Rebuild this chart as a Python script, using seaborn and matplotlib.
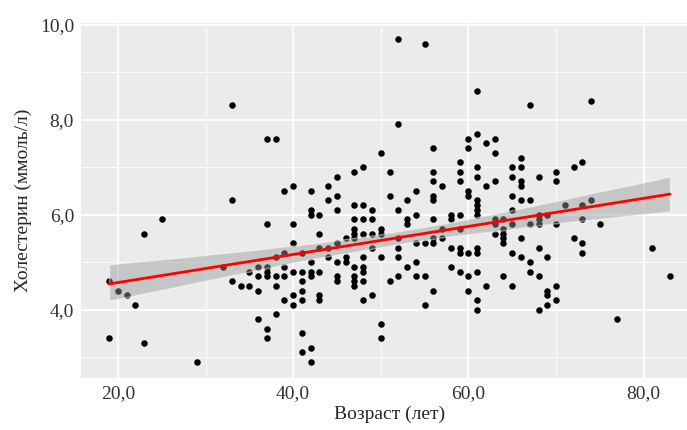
import numpy as np
import pandas as pd
import matplotlib
matplotlib.use("Agg")
import matplotlib.pyplot as plt
import seaborn as sns

# ages (years) and the cholesterol readings observed at each age
ages = [19, 20, 21, 22, 23, 25, 29, 32, 33, 34, 35, 36, 37, 38, 39, 40, 41, 42,
        43, 44, 45, 46, 47, 48, 49, 50, 51, 52, 53, 54, 55, 56, 57, 58, 59, 60,
        61, 62, 63, 64, 65, 66, 67, 68, 69, 70, 71, 72, 73, 74, 75, 77, 81, 83]
chol_by_age = [
    [4.6, 3.4], [4.4], [4.3], [4.1], [5.6, 3.3], [5.9], [2.9], [4.9],
    [8.3, 6.3, 4.6], [4.5], [4.5, 4.8], [4.4, 3.8, 4.9, 4.7],
    [7.6, 5.8, 4.9, 4.8, 4.7, 3.6, 3.4], [7.6, 5.1, 4.7, 4.5, 3.9],
    [6.5, 5.2, 4.9, 4.7, 4.2], [6.6, 5.8, 5.4, 4.8, 4.3, 4.1],
    [5.2, 4.8, 4.6, 4.4, 4.2, 3.5, 3.1], [6.5, 6.1, 6.0, 5.0, 4.8, 4.7, 3.2, 2.9],
    [6.0, 5.6, 5.3, 4.8, 4.3, 4.2], [6.6, 6.3, 5.3, 5.1],
    [6.8, 6.4, 6.1, 5.4, 5.0, 4.7, 4.6], [5.5, 5.1, 5.0],
    [6.9, 6.2, 5.9, 5.7, 5.6, 5.5, 4.9, 4.7, 4.6, 4.5],
    [7.0, 6.2, 5.9, 5.6, 5.1, 4.9, 4.8, 4.6, 4.2], [6.1, 5.9, 5.6, 5.3, 4.3],
    [7.3, 5.7, 5.6, 5.1, 3.7, 3.4], [6.9, 6.4, 4.6],
    [9.7, 7.9, 6.1, 5.5, 5.3, 5.1, 4.7], [6.3, 5.9, 5.8, 4.9],
    [6.5, 6.0, 5.4, 5.0, 4.7], [9.6, 5.4, 4.7, 4.1],
    [7.4, 6.9, 6.7, 6.4, 6.3, 5.9, 5.5, 5.4, 4.4], [6.6, 5.7, 5.5],
    [6.0, 5.9, 5.3, 4.9], [7.1, 6.9, 6.7, 6.0, 5.7, 5.3, 5.2, 4.8],
    [7.6, 7.4, 6.5, 6.4, 5.2, 4.7, 4.4],
    [8.6, 7.7, 7.0, 6.8, 6.3, 6.2, 6.1, 6.0, 5.3, 5.2, 4.8, 4.2, 4.0],
    [7.5, 6.6, 4.5], [7.6, 7.3, 6.7, 5.9, 5.8, 5.6], [5.9, 5.7, 5.6, 5.5, 5.4, 4.7],
    [7.0, 6.8, 6.4, 6.1, 5.8, 5.2, 4.5], [7.2, 7.0, 6.7, 6.6, 6.3, 5.5, 5.1],
    [8.3, 6.3, 5.8, 5.0, 4.8], [6.8, 6.0, 5.9, 5.8, 5.3, 4.7, 4.0],
    [6.0, 5.1, 4.4, 4.3, 4.1], [6.9, 6.7, 5.8, 4.5, 4.2], [6.2], [7.0, 5.5],
    [7.1, 6.2, 5.9, 5.4, 5.2], [8.4, 6.3], [5.8], [3.8], [5.3], [4.7],
]

x_ticks = [20, 40, 60, 80]
y_ticks = [4, 6, 8, 10]

df = pd.DataFrame(
    [(a, c) for a, vals in zip(ages, chol_by_age) for c in vals],
    columns=["age", "chol"],
)

sns.set_theme(style="darkgrid", rc={
    "axes.facecolor": "#EBEBEB",
    "grid.color": "white",
})
plt.rcParams["font.family"] = ["Liberation Serif", "DejaVu Serif"]

fig = plt.figure(figsize=(6.87, 4.30), dpi=100)
ax = fig.add_axes([0.118, 0.121, 0.898, 0.826])

sns.scatterplot(data=df, x="age", y="chol", color="black", s=22,
                linewidth=0, ax=ax, zorder=3)
sns.regplot(data=df, x="age", y="chol", scatter=False, ci=95, color="#999999",
            ax=ax, line_kws={"zorder": 5})
# ggplot-like smoother: grey ribbon, red line
ax.collections[-1].set_alpha(0.45)
ax.collections[-1].set_zorder(4)
ax.lines[-1].set_color("#FF0000")
ax.lines[-1].set_linewidth(2.0)

xmin, xmax = df["age"].min(), df["age"].max()
ymin, ymax = df["chol"].min(), df["chol"].max()
xpad, ypad = 0.05 * (xmax - xmin), 0.05 * (ymax - ymin)
ax.set_xlim(xmin - xpad, xmax + xpad)
ax.set_ylim(ymin - ypad, ymax + ypad)

ax.set_xticks(x_ticks)
ax.set_yticks(y_ticks)
ax.set_xticks([30, 50, 70], minor=True)
ax.set_yticks([3, 5, 7, 9], minor=True)
ax.set_xticklabels([f"{t:.1f}".replace(".", ",") for t in x_ticks])
ax.set_yticklabels([f"{t:.1f}".replace(".", ",") for t in y_ticks])
ax.grid(which="major", color="white", linewidth=1.3)
ax.grid(which="minor", color="white", linewidth=0.6)
ax.tick_params(which="major", length=3, width=0.8, color="#333333",
               labelsize=14, labelcolor="#333333", pad=2)
ax.tick_params(which="minor", length=0)
for s in ax.spines.values():
    s.set_visible(False)

ax.set_xlabel("Возраст (лет)", fontsize=14, labelpad=3)
ax.set_ylabel("Холестерин (ммоль/л)", fontsize=14, labelpad=6)

fig.savefig("out.png", dpi=100)
